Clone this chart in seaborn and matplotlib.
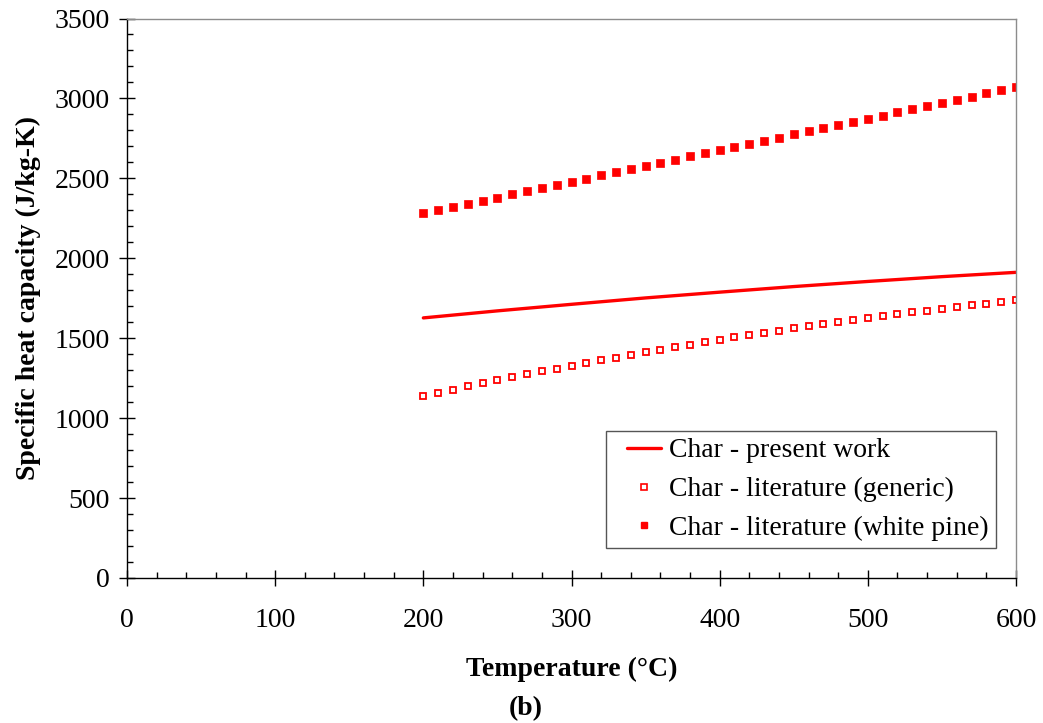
import numpy as np
import pandas as pd
import matplotlib
matplotlib.use("Agg")
import matplotlib.pyplot as plt
from matplotlib.ticker import MultipleLocator
from matplotlib.lines import Line2D
from matplotlib.legend_handler import HandlerLine2D
import seaborn as sns

# Char specific heat capacity vs temperature
temp_line = [200, 250, 300, 350, 400, 450, 500, 550, 600]
cp_present = [1627, 1671, 1712, 1752, 1788, 1823, 1855, 1885, 1912]

temp_lit = list(range(200, 601, 10))
cp_generic = [1139, 1159, 1179, 1198, 1218, 1237, 1255, 1274, 1292, 1310,
              1328, 1345, 1362, 1379, 1396, 1412, 1428, 1444, 1460, 1475,
              1490, 1505, 1519, 1534, 1548, 1561, 1575, 1588, 1601, 1614,
              1626, 1638, 1650, 1662, 1673, 1684, 1695, 1706, 1716, 1726,
              1736]
cp_white_pine = [2281, 2301, 2321, 2340, 2360, 2380, 2400, 2419, 2439, 2459,
                 2479, 2498, 2518, 2538, 2558, 2577, 2597, 2617, 2637, 2656,
                 2676, 2696, 2716, 2735, 2755, 2775, 2795, 2814, 2834, 2854,
                 2874, 2893, 2913, 2933, 2953, 2972, 2992, 3012, 3032, 3051,
                 3071]

labels = ["Char - present work",
          "Char - literature (generic)",
          "Char - literature (white pine)"]

sns.set_style("white")
plt.rcParams["font.family"] = ["Liberation Serif", "DejaVu Serif"]
plt.rcParams.update({"text.color": "black", "axes.labelcolor": "black",
                     "xtick.color": "black", "ytick.color": "black"})

fig = plt.figure(figsize=(10.43, 7.23), dpi=100)
ax = fig.add_axes([0.1218, 0.2006, 0.8523, 0.7738])

red = "#ff0000"
df_line = pd.DataFrame({"T": temp_line, "cp": cp_present})
df_lit = pd.DataFrame({"T": temp_lit, "gen": cp_generic, "wp": cp_white_pine})

sns.lineplot(data=df_line, x="T", y="cp", ax=ax, color=red, lw=2.4)
sns.lineplot(data=df_lit, x="T", y="gen", ax=ax, color=red, linestyle="none",
             marker="s", markersize=5.0, markerfacecolor="white",
             markeredgecolor=red, markeredgewidth=1.3)
sns.lineplot(data=df_lit, x="T", y="wp", ax=ax, color=red, linestyle="none",
             marker="s", markersize=5.6, markerfacecolor=red,
             markeredgecolor=red, markeredgewidth=0.5)

ax.set_xlim(0, 600)
ax.set_ylim(0, 3500)
ax.xaxis.set_major_locator(MultipleLocator(100))
ax.xaxis.set_minor_locator(MultipleLocator(20))
ax.yaxis.set_major_locator(MultipleLocator(500))
ax.yaxis.set_minor_locator(MultipleLocator(100))

ax.tick_params(axis="both", which="both", bottom=True, left=True,
               top=False, right=False)
ax.tick_params(axis="both", which="major", direction="inout", length=11,
               width=1.0, color="black", labelsize=20, labelcolor="black")
ax.tick_params(axis="both", which="minor", direction="in", length=4.5,
               width=1.0, color="black")
ax.tick_params(axis="x", which="major", pad=16)
ax.tick_params(axis="y", which="major", pad=7)

for side in ["left", "bottom"]:
    ax.spines[side].set_color("black")
    ax.spines[side].set_linewidth(1.0)
for side in ["top", "right"]:
    ax.spines[side].set_color("#8c8c8c")
    ax.spines[side].set_linewidth(1.0)

ax.set_xlabel("Temperature (°C)", fontsize=20, fontweight="bold",
              labelpad=17, color="black")
ax.set_ylabel("Specific heat capacity (J/kg-K)", fontsize=20,
              fontweight="bold", labelpad=10, color="black")
fig.text(0.504, 0.003, "(b)", fontsize=20, fontweight="bold",
         ha="center", va="bottom", color="black")

handles = [
    Line2D([], [], color=red, lw=2.4),
    Line2D([], [], color=red, linestyle="none", marker="s", markersize=4.2,
           markerfacecolor="white", markeredgecolor=red, markeredgewidth=1.2),
    Line2D([], [], color=red, linestyle="none", marker="s", markersize=4.8,
           markerfacecolor=red, markeredgecolor=red),
]
leg = ax.legend(handles, labels, loc="lower right",
                bbox_to_anchor=(0.9775, 0.0536), fontsize=20,
                frameon=True, fancybox=False, framealpha=1,
                edgecolor="#555555", handlelength=1.73, handletextpad=0.29,
                borderpad=0.25, labelspacing=0.48, borderaxespad=0,
                handler_map={h: HandlerLine2D(xpad=0.5) for h in handles})
leg.get_frame().set_linewidth(1.0)
for t in leg.get_texts():
    t.set_color("black")

fig.savefig("out.png", dpi=100)
